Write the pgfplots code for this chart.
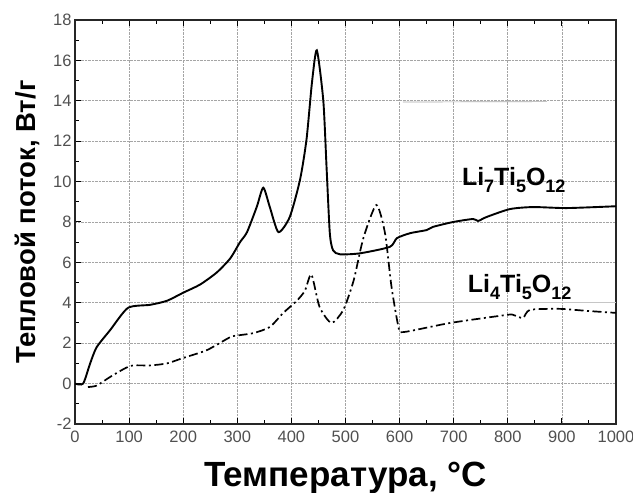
\documentclass[border=0pt]{standalone}
\usepackage{fontspec}
\setmainfont{Liberation Sans}
\usepackage{pgfplots}
\pgfplotsset{compat=1.18}
\definecolor{tickgray}{RGB}{80,80,80}
\definecolor{gridgray}{RGB}{165,165,165}
\newcommand{\sub}[1]{\raisebox{-0.28em}{\fontsize{18}{20}\selectfont\bfseries #1}}
\begin{document}
\begin{tikzpicture}
\useasboundingbox (-75pt,-69pt) rectangle (558pt,424pt);
\begin{axis}[
  at={(0pt,0pt)}, anchor=south west,
  scale only axis,
  width=541pt, height=404pt,
  xmin=0, xmax=1000, ymin=-2, ymax=18,
  xtick={0,100,...,1000}, ytick={-2,0,...,18},
  minor x tick num=1, minor y tick num=1,
  tick align=inside,
  xtick pos=both, ytick pos=left,
  major tick length=6pt, minor tick length=4pt,
  every tick/.style={black, line width=1pt},
  axis line style={black!85, line width=1.4pt},
  grid=major,
  major grid style={gridgray, densely dotted, line width=0.8pt},
  /pgf/number format/assume math mode=true,
  ticklabel style={font=\fontsize{16.5}{18}\selectfont, text=tickgray},
  xticklabel style={yshift=-3pt},
  /pgf/number format/1000 sep={},
  xlabel={\bfseries Температура, °C},
  ylabel={\bfseries Тепловой поток, Вт/г},
  xlabel style={font=\fontsize{35}{38}\selectfont, at={(axis description cs:0.5,0)}, anchor=base, yshift=-63pt},
  ylabel style={font=\fontsize{27.5}{30}\selectfont, at={(axis description cs:0,0.5)}, anchor=base, yshift=39pt},
]
% thin gray artifact lines
\addplot[gray!70, line width=0.7pt] coordinates {(606,13.94) (872,13.96)};
\addplot[gray!45, line width=0.6pt] coordinates {(560,4.03) (1000,4.03)};
% Li7Ti5O12
\addplot[black, line width=1.9pt, smooth, tension=0.4] coordinates {
(0,0) (15,0) (28,1.0) (40,1.8) (65,2.65) (98,3.75) (139,3.9) (170,4.1) (200,4.5)
(231,4.9) (262,5.5) (287,6.2) (305,7.0) (318,7.5) (336,8.75) (348,9.7)
(360,8.75) (376,7.5) (397,8.25) (416,10.1) (428,12.1) (438,14.9) (447,16.5)
(459,14.0) (465,10.7) (471,7.45) (477,6.6) (490,6.4) (527,6.45) (582,6.77)
(595,7.2) (620,7.45) (650,7.6) (662,7.76) (699,8.0) (736,8.15) (745,8.05)
(761,8.25) (804,8.64) (847,8.74) (909,8.69) (1000,8.78)};
% Li4Ti5O12
\addplot[black, line width=1.7pt, smooth, tension=0.4,
  dash pattern=on 9pt off 3.5pt on 2pt off 3.5pt] coordinates {
(24,-0.17) (40,-0.1) (65,0.33) (102,0.87) (139,0.9) (170,1.0) (200,1.27)
(244,1.66) (287,2.3) (305,2.4) (330,2.5) (360,2.8) (385,3.5) (410,4.1)
(425,4.6) (437,5.4) (452,3.8) (474,3.0) (496,3.65) (515,5.1) (533,7.2)
(557,8.84) (573,7.45) (585,4.8) (598,2.8) (607,2.55) (693,3.0) (798,3.4)
(810,3.4) (828,3.25) (841,3.65) (896,3.7) (946,3.6) (1000,3.5)};
\node[font=\fontsize{25}{27}\selectfont\bfseries, anchor=base west, inner sep=0pt] at (axis cs:715,9.83) {Li\sub{7}Ti\sub{5}O\sub{12}};
\node[font=\fontsize{25}{27}\selectfont\bfseries, anchor=base west, inner sep=0pt] at (axis cs:726,4.53) {Li\sub{4}Ti\sub{5}O\sub{12}};
\end{axis}
\end{tikzpicture}
\end{document}
